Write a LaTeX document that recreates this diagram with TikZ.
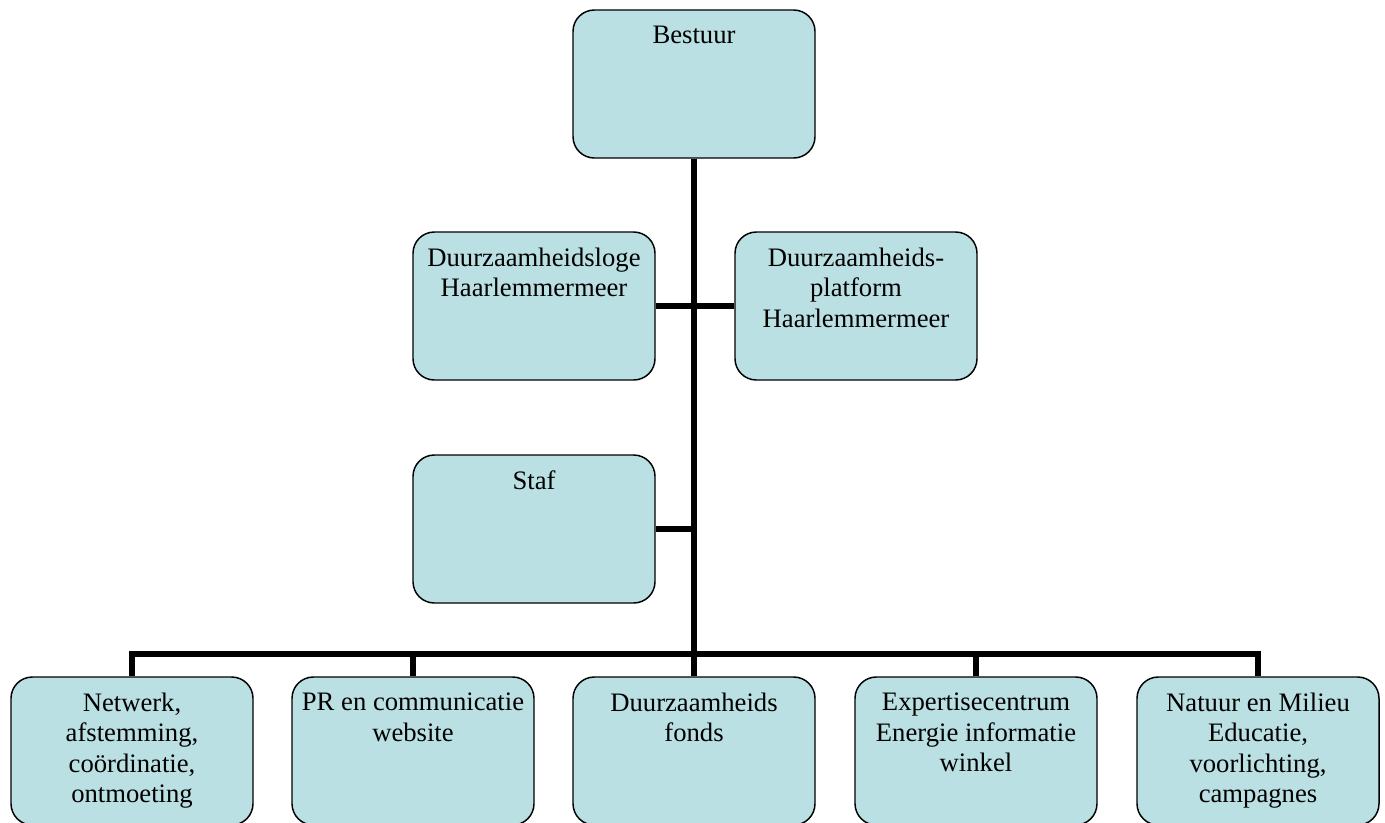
\documentclass[tikz,border=0pt]{standalone}
\usepackage{fontspec}
\setmainfont{Liberation Serif}
\usetikzlibrary{positioning}

\definecolor{boxfill}{RGB}{187,224,227}

\tikzset{
    orgbox/.style={draw=black, line width=1.1pt, fill=boxfill, rounded corners=16pt,
        minimum width=181.5pt, minimum height=111pt, inner sep=0pt},
    orgtext/.style={anchor=north, align=center, inner sep=0pt,
        font=\fontsize{20}{22.7}\selectfont},
    orgline/.style={line width=4.5pt}
}

\begin{document}
\begin{tikzpicture}[x=0.75pt, y=-0.75pt]
    \useasboundingbox (0,0) rectangle (1385,822);

    % Top and side boxes
    \node[orgbox] (bestuur) at (694,84) {};
    \node[orgbox] (loge) at (534,306) {};
    \node[orgbox] (platform) at (856,306) {};
    \node[orgbox] (staf) at (534,529) {};

    % Bottom row
    \node[orgbox] (netwerk) at (132,751) {};
    \node[orgbox] (pr) at (413,751) {};
    \node[orgbox] (fonds) at (694,751) {};
    \node[orgbox] (expertise) at (976,751) {};
    \node[orgbox] (natuur) at (1258,751) {};

    % Texts
    \node[orgtext, below=12.5pt of bestuur.north] {Bestuur};
    \node[orgtext, below=12.5pt of loge.north] {Duurzaamheidsloge\\Haarlemmermeer};
    \node[orgtext, below=12.5pt of platform.north] {Duurzaamheids-\\platform\\Haarlemmermeer};
    \node[orgtext, below=12.5pt of staf.north] {Staf};
    \node[orgtext, below=12.5pt of netwerk.north] {Netwerk,\\afstemming,\\coördinatie,\\ontmoeting};
    \node[orgtext, below=12.5pt of pr.north] {PR en communicatie\\website};
    \node[orgtext, below=12.5pt of fonds.north] {Duurzaamheids\\fonds};
    \node[orgtext, below=12.5pt of expertise.north] {Expertisecentrum\\Energie informatie\\winkel};
    \node[orgtext, below=12.5pt of natuur.north] {Natuur en Milieu\\Educatie,\\voorlichting,\\campagnes};

    % Connectors
    \coordinate (bus) at (694,654);
    \draw[orgline] (bestuur.south) -- (bus);
    \draw[orgline] (loge.east) -- (platform.west);
    \draw[orgline] (staf.east) -- (staf.east -| bus);
    \draw[orgline, line cap=rect] (netwerk.north |- bus) -- (natuur.north |- bus);
    \foreach \n in {netwerk,pr,fonds,expertise,natuur}
        \draw[orgline] (\n.north |- bus) -- (\n.north);
\end{tikzpicture}
\end{document}
